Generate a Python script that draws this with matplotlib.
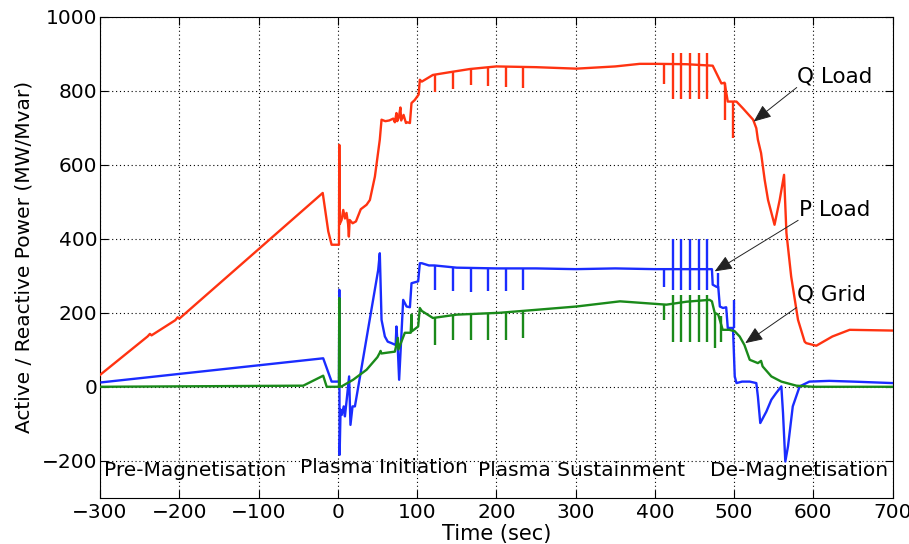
import matplotlib
matplotlib.use("Agg")
import matplotlib.pyplot as plt

# ---------------- data ----------------
# Q Load (red)
qload_t = [-300, -240, -237, -235, -205, -202, -200, -19, -12, -7.8, 1.5, 1.9, 2.5, 4.8, 6.9, 9, 11, 13, 14,
           15, 18.7, 22.9, 29, 36.3, 40.5, 46.8, 53, 55.2, 60, 65, 70, 72, 74, 75, 77, 79, 80, 83, 86, 88, 91,
           93, 97, 99, 102, 103.5, 106, 120, 140, 166.6, 200, 250, 301, 350, 381, 402, 440, 473, 477.6, 484,
           488, 492, 503, 511, 524, 528, 530, 534, 538.6, 542.8, 551, 557.5, 563, 566, 572, 580.6, 589, 591,
           603.7, 624, 645.8, 700]
qload_v = [32, 136, 143, 139, 180, 188, 184, 524, 420, 384, 384, 654, 440, 451, 478, 455, 470, 440, 406,
           451, 442, 447, 480, 492, 505, 568, 668, 722, 718, 720, 725, 715, 740, 718, 728, 755, 720, 735, 713,
           715, 713, 767, 775, 781, 790, 830, 825, 843, 850, 859, 866, 864, 860, 866, 873, 873, 872, 868, 848,
           820, 822, 771, 771, 753, 722, 699, 668, 632, 559, 505, 438, 505, 573, 416, 298, 181, 122, 118,
           111, 136, 154, 152]

# P Load (blue)
pload_t = [-298, -18.4, -7.8, 1.5, 1.9, 2.3, 3.5, 5, 7.5, 9, 11, 14.3, 16, 18.6, 21.6, 30, 40, 51, 53, 55.2,
           59.4, 63, 67.8, 73, 74, 75.5, 77.4, 80.4, 82.5, 86.8, 91, 93, 101.4, 103.5, 106, 115, 122, 150, 200,
           250, 300, 350, 400, 450, 472, 473, 478, 480, 482, 486, 490, 492, 498.6, 500.8, 503, 510, 519.7, 528,
           530, 533, 540.7, 547, 553, 559.6, 561.7, 564.6, 568, 574, 582.7, 595, 620, 650, 700]
pload_v = [12, 77, 14, 14, 262, -184, -62, -76, -53, -80, -40, 28, -103, -53, -53, 52, 178, 316, 361, 181,
           136, 122, 118, 113, 163, 113, 19, 146, 235, 217, 215, 280, 285, 334, 334, 328, 328, 322, 320,
           320, 318, 320, 318, 318, 318, 276, 270, 270, 217, 213, 215, 159, 159, 28, 10, 14, 14, 10,
           -26, -98, -67, -35, -17, 1, -71, -202, -161, -53, 1, 14, 16, 14, 10]

# Q Grid (green)
qgrid_t = [-300, -43.6, -18.4, -14, 1.5, 1.9, 2.3, 4.8, 19.4, 36.3, 50, 53, 54, 55, 61.6, 72, 75.8, 76.5,
           84.6, 92, 93, 93.5, 101.4, 103.5, 106, 120, 150, 204, 250, 301, 356, 414.6, 440, 469, 472, 475.5,
           480, 485.6, 494, 500.8, 507, 513, 519.7, 530, 534, 536, 547, 559.6, 578.5, 600, 700]
qgrid_v = [0, 3, 30, 0, 0, 240, 0, 1, 19, 46, 80, 92, 97, 90, 92, 95, 132, 101,
           146, 146, 195, 150, 163, 213, 205, 186, 195, 200, 208, 217, 231, 222, 230, 235, 231, 200,
           195, 154, 154, 150, 136, 113, 73, 64, 70, 55, 28, 14, 3, 0, 0]

# periodic spikes during sustainment
sus_t = [123, 145.6, 167.8, 189.7, 211.6, 233.9, 411.6]
qload_sus_base = [842, 850, 858, 862, 864, 864, 873]
qload_sus_tip = [798, 805, 816, 812, 811, 809, 819]
pload_sus_base = [328, 325, 322, 321, 320, 320, 318]
pload_sus_tip = [262, 258, 255, 260, 258, 262, 271]
qgrid_sus_base = [186, 192, 196, 199, 202, 204, 222]
qgrid_sus_tip = [113, 127, 127, 127, 127, 132, 181]

# double spikes near end of sustainment
dbl_t = [423, 433.4, 444, 455.4, 465.9]
qload_dbl_hi, qload_dbl_lo = [903] * 5, [777] * 5
pload_dbl_hi, pload_dbl_lo = [400] * 5, [262] * 5
qgrid_dbl_hi, qgrid_dbl_lo = [249] * 5, [122] * 5

# spikes during ramp-down
qload_x_t, qload_x_lo, qload_x_hi = [488, 499], [722, 672], [822, 771]
pload_x_t, pload_x_lo, pload_x_hi = [479.7, 499.5], [270, 159], [308, 235]
qgrid_x_t, qgrid_x_lo, qgrid_x_hi = [475.5, 484], [105, 122], [200, 190]

xticks = [-300, -200, -100, 0, 100, 200, 300, 400, 500, 600, 700]
yticks = [-200, 0, 200, 400, 600, 800, 1000]

phases = ["Pre-Magnetisation", "Plasma Initiation", "Plasma Sustainment", "De-Magnetisation"]
phase_x = [-295, -48, 177, 469]
phase_y = [-240, -234, -240, -240]

# ---------------- plot ----------------
plt.rcParams['font.family'] = ['DejaVu Sans']
fig = plt.figure(figsize=(9.09, 5.44), dpi=100)
ax = fig.add_axes([0.110, 0.085, 0.872, 0.884])

RED, BLUE, GREEN = '#ff3311', '#1a2cff', '#1a8a1a'
LW = 1.7

ax.plot(qload_t, qload_v, color=RED, lw=LW, zorder=3)
ax.vlines(sus_t, qload_sus_tip, qload_sus_base, color=RED, lw=LW, zorder=3)
ax.vlines(dbl_t, qload_dbl_lo, qload_dbl_hi, color=RED, lw=LW, zorder=3)
ax.vlines(qload_x_t, qload_x_lo, qload_x_hi, color=RED, lw=LW, zorder=3)

ax.plot(pload_t, pload_v, color=BLUE, lw=LW, zorder=3)
ax.vlines(sus_t, pload_sus_tip, pload_sus_base, color=BLUE, lw=LW, zorder=3)
ax.vlines(dbl_t, pload_dbl_lo, pload_dbl_hi, color=BLUE, lw=LW, zorder=3)
ax.vlines(pload_x_t, pload_x_lo, pload_x_hi, color=BLUE, lw=LW, zorder=3)

ax.plot(qgrid_t, qgrid_v, color=GREEN, lw=LW, zorder=4)
ax.vlines(sus_t, qgrid_sus_tip, qgrid_sus_base, color=GREEN, lw=LW, zorder=4)
ax.vlines(dbl_t, qgrid_dbl_lo, qgrid_dbl_hi, color=GREEN, lw=LW, zorder=4)
ax.vlines(qgrid_x_t, qgrid_x_lo, qgrid_x_hi, color=GREEN, lw=LW, zorder=4)

ax.set_xlim(-300, 700)
ax.set_ylim(-300, 1000)
ax.set_xticks(xticks)
ax.set_yticks(yticks)
ax.tick_params(direction='in', top=True, right=True, length=6, width=0.8,
               labelsize=14.5, pad=4)
ax.tick_params(axis='y', pad=2)
ax.grid(True, color='black', linestyle=(0, (1, 2.5)), linewidth=0.8)
ax.set_axisbelow(True)
for s in ax.spines.values():
    s.set_linewidth(0.8)

ax.set_xlabel("Time (sec)", fontsize=15, labelpad=1)
ax.set_ylabel("Active / Reactive Power (MW/Mvar)", fontsize=14.5, labelpad=6)

for name, px, py in zip(phases, phase_x, phase_y):
    ax.text(px, py, name, fontsize=14.5, ha='left', va='baseline', zorder=5)

arrow_kw = dict(arrowstyle='-|>,head_length=0.6,head_width=0.25', color='#222222', lw=0.7,
                mutation_scale=18, shrinkA=0, shrinkB=0)
ax.annotate("", xy=(524.7, 717), xytext=(579, 809), arrowprops=arrow_kw, zorder=6)
ax.annotate("", xy=(475.5, 312), xytext=(580.8, 450), arrowprops=arrow_kw, zorder=6)
ax.annotate("", xy=(514, 118), xytext=(578.6, 214), arrowprops=arrow_kw, zorder=6)
ax.text(579, 839, "Q Load", fontsize=15.5, ha='left', va='center', zorder=6)
ax.text(581.5, 478, "P Load", fontsize=15.5, ha='left', va='center', zorder=6)
ax.text(579, 249, "Q Grid", fontsize=15.5, ha='left', va='center', zorder=6)

fig.savefig("out.png", dpi=100)
